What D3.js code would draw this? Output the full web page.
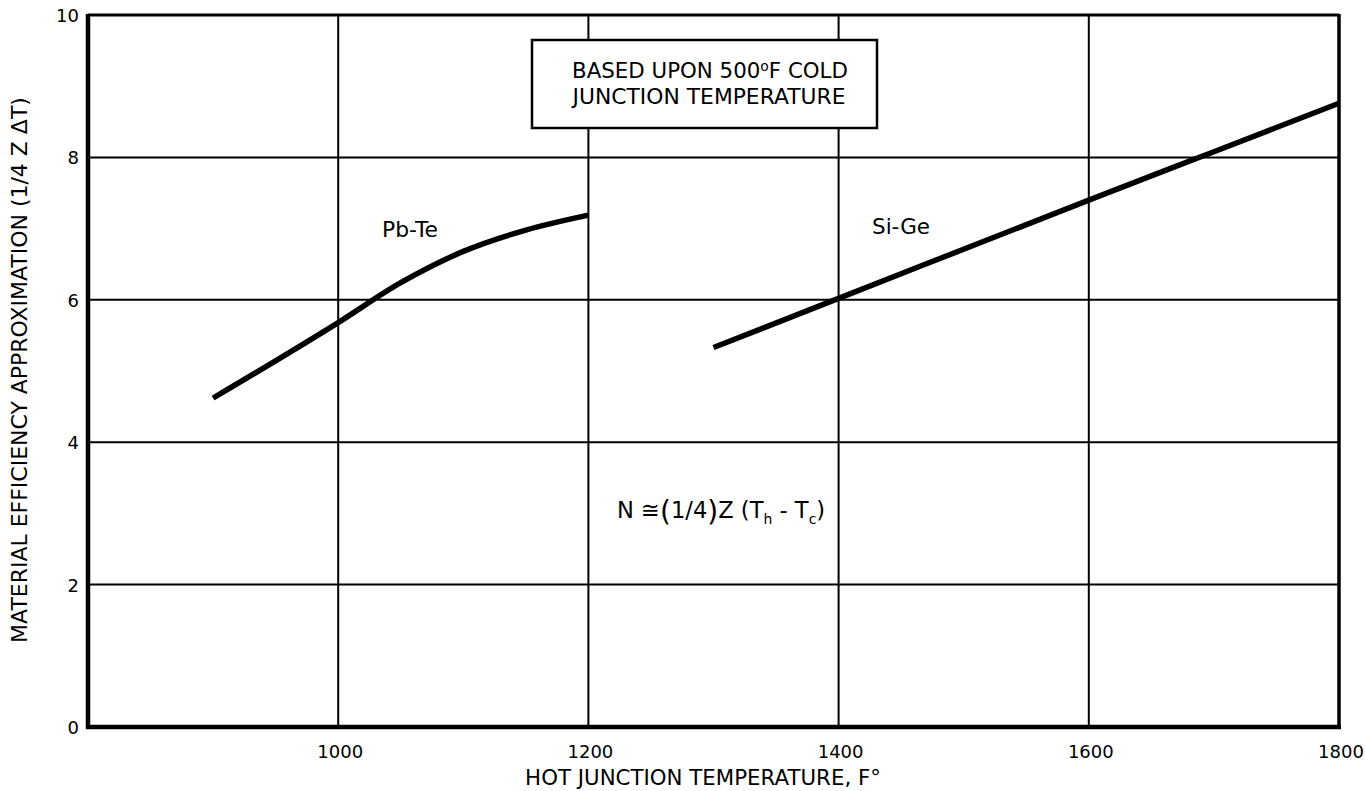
<!DOCTYPE html>
<html>
<head>
<meta charset="utf-8">
<script src="https://cdn.jsdelivr.net/npm/d3@7"></script>
<style>
  body { margin: 0; background: #fff; }
  text { font-family: "DejaVu Sans", "Noto Sans", sans-serif; fill: #000; }
</style>
</head>
<body>
<div id="chart"></div>
<script>
// data
const xTicks = [1000, 1200, 1400, 1600, 1800];
const yTicks = [0, 2, 4, 6, 8, 10];
const pbTeTemp = [900, 1000, 1050, 1100, 1150, 1200];
const pbTeEff  = [4.62, 5.68, 6.24, 6.68, 6.98, 7.19];
const siGeTemp = [1300, 1400, 1600, 1700, 1800];
const siGeEff  = [5.33, 6.02, 7.4, 8.08, 8.76];

const W = 1365, H = 791;
const margin = { top: 15, right: 26, bottom: 64, left: 88 };

const svg = d3.select("#chart").append("svg")
  .attr("width", W).attr("height", H);

const x = d3.scaleLinear().domain([800, 1800]).range([margin.left, W - margin.right]);
const y = d3.scaleLinear().domain([0, 10]).range([H - margin.bottom, margin.top]);

// scale a text's font so it spans a given width
function fitWidth(sel, w) {
  const cur = sel.node().getComputedTextLength();
  const fs = parseFloat(sel.attr("font-size"));
  sel.attr("font-size", (fs * w / cur).toFixed(2) + "px");
}

// grid
svg.append("g").selectAll("line")
  .data(xTicks.slice(0, -1))
  .enter().append("line")
  .attr("x1", d => x(d)).attr("x2", d => x(d))
  .attr("y1", y(10)).attr("y2", y(0))
  .attr("stroke", "#000").attr("stroke-width", 2);

svg.append("g").selectAll("line")
  .data(yTicks.slice(1, -1))
  .enter().append("line")
  .attr("x1", x(800)).attr("x2", x(1800))
  .attr("y1", d => y(d)).attr("y2", d => y(d))
  .attr("stroke", "#000").attr("stroke-width", 2);

// frame
svg.append("line").attr("x1", x(800)).attr("x2", x(1800)).attr("y1", y(10)).attr("y2", y(10))
  .attr("stroke", "#000").attr("stroke-width", 3);
svg.append("line").attr("x1", x(1800)).attr("x2", x(1800)).attr("y1", y(10) - 1).attr("y2", y(0))
  .attr("stroke", "#000").attr("stroke-width", 3.5);
svg.append("line").attr("x1", x(800)).attr("x2", x(800)).attr("y1", y(10) - 1).attr("y2", y(0) + 2)
  .attr("stroke", "#000").attr("stroke-width", 4.5);
svg.append("line").attr("x1", x(800) - 2).attr("x2", x(1800) + 2).attr("y1", y(0)).attr("y2", y(0))
  .attr("stroke", "#000").attr("stroke-width", 4.5);

// tick labels
svg.append("g").selectAll("text")
  .data(xTicks)
  .enter().append("text")
  .attr("x", d => x(d) + 2).attr("y", y(0) + 31)
  .attr("text-anchor", "middle")
  .attr("font-size", "18px")
  .text(d => d);

svg.append("g").selectAll("text")
  .data(yTicks)
  .enter().append("text")
  .attr("x", x(800) - 9).attr("y", d => y(d) + 7)
  .attr("text-anchor", "end")
  .attr("font-size", "18px")
  .text(d => d);

// axis titles
const xt = svg.append("text")
  .attr("x", 703).attr("y", 785)
  .attr("text-anchor", "middle")
  .attr("font-size", "18px")
  .text("HOT JUNCTION TEMPERATURE, F°");
fitWidth(xt, 356);

const yt = svg.append("text")
  .attr("transform", `translate(27,${370}) rotate(-90)`)
  .attr("text-anchor", "middle")
  .attr("font-size", "18px")
  .text("MATERIAL EFFICIENCY APPROXIMATION (1/4 Z ΔT)");
fitWidth(yt, 546);

// curves
const line = d3.line().x(d => x(d[0])).y(d => y(d[1])).curve(d3.curveMonotoneX);

svg.append("path")
  .datum(d3.zip(pbTeTemp, pbTeEff))
  .attr("d", line)
  .attr("fill", "none").attr("stroke", "#000").attr("stroke-width", 5.5);

svg.append("path")
  .datum(d3.zip(siGeTemp, siGeEff))
  .attr("d", line)
  .attr("fill", "none").attr("stroke", "#000").attr("stroke-width", 5.5);

// curve labels
const l1 = svg.append("text").attr("x", 382).attr("y", 237).attr("font-size", "18px").text("Pb-Te");
fitWidth(l1, 56);
const l2 = svg.append("text").attr("x", 872).attr("y", 234).attr("font-size", "18px").text("Si-Ge");
fitWidth(l2, 58);

// note box
svg.append("rect")
  .attr("x", 532).attr("y", 40).attr("width", 345).attr("height", 88)
  .attr("fill", "#fff").attr("stroke", "#000").attr("stroke-width", 2.5);
const b1 = svg.append("text").attr("x", 710).attr("y", 78).attr("text-anchor", "middle").attr("font-size", "18px");
b1.append("tspan").text("BASED UPON 500");
b1.append("tspan").attr("dy", -7).attr("font-size", "0.65em").text("o");
b1.append("tspan").attr("dy", 7).text("F COLD");
fitWidth(b1, 276);
const b2 = svg.append("text").attr("x", 709).attr("y", 104).attr("text-anchor", "middle").attr("font-size", "18px")
  .text("JUNCTION TEMPERATURE");
fitWidth(b2, 273);

// formula
const f = svg.append("text").attr("x", 617).attr("y", 518).attr("font-size", "18px");
f.append("tspan").text("N ≅");
f.append("tspan").attr("font-size", "28px").attr("dy", 3).text("(");
f.append("tspan").attr("dy", -3).text("1/4");
f.append("tspan").attr("font-size", "28px").attr("dy", 3).text(")");
f.append("tspan").attr("dy", -3).text("Z (T");
f.append("tspan").attr("font-size", "14px").attr("dy", 6).text("h");
f.append("tspan").attr("dy", -6).text(" - T");
f.append("tspan").attr("font-size", "14px").attr("dy", 6).text("c");
f.append("tspan").attr("dy", -6).text(")");
fitWidth(f, 218);
</script>
</body>
</html>
